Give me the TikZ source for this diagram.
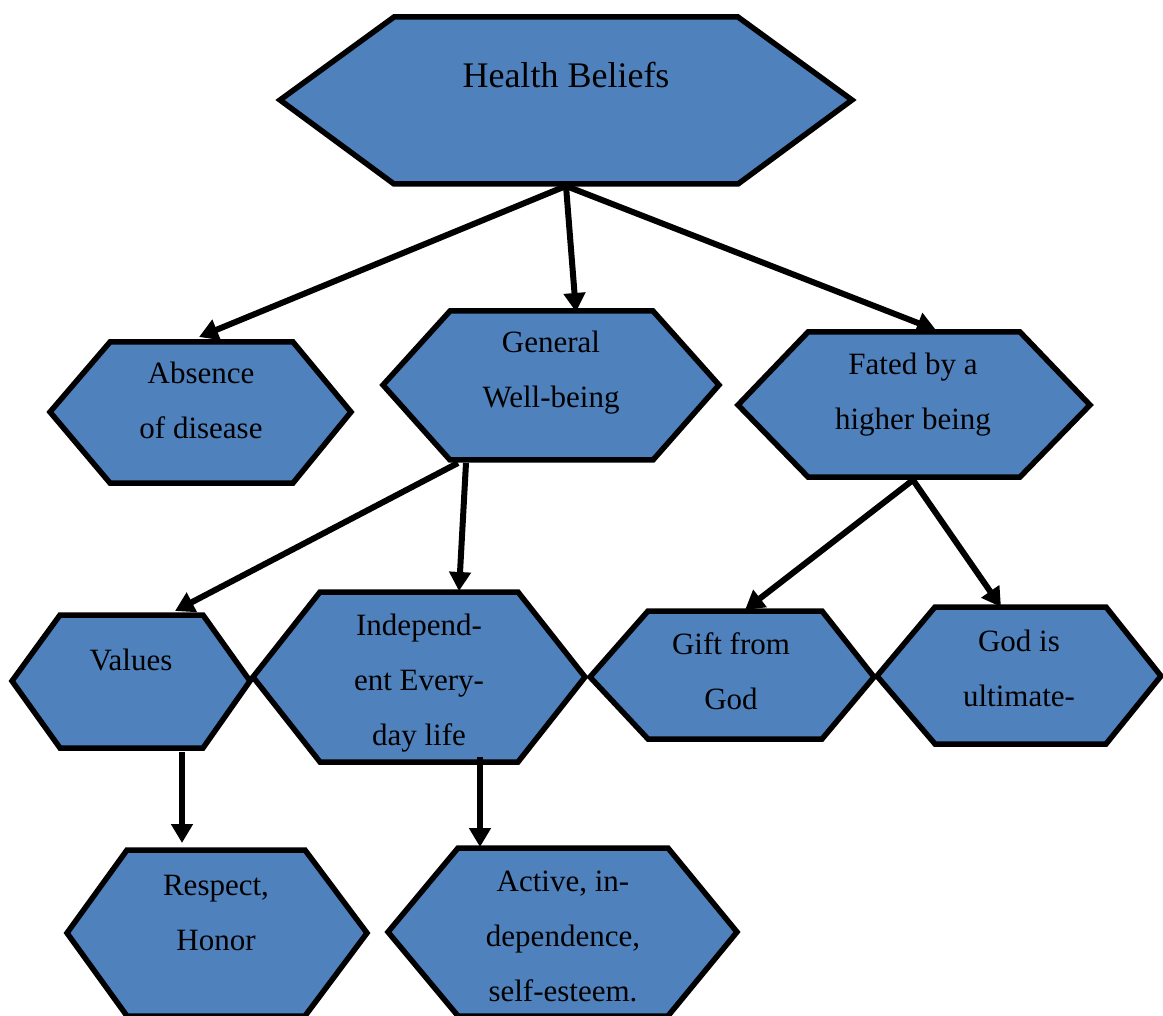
\documentclass[tikz,border=0pt]{standalone}
\usepackage{fontspec}
\setmainfont{Liberation Serif}
\usetikzlibrary{arrows.meta}

\definecolor{hexblue}{HTML}{4F81BD}

% hexagon outline: #1 left x, #2 inner left x, #3 inner right x, #4 right x,
% #5 top y, #6 middle y, #7 bottom y
\newcommand\hexfield[7]{%
  \draw[hexline] (#1,#6) -- (#2,#5) -- (#3,#5) -- (#4,#6) -- (#3,#7) -- (#2,#7) -- cycle;}

\begin{document}
\begin{tikzpicture}[x=1pt,y=-1pt,
    hexline/.style={fill=hexblue, draw=black, line width=5.5pt, line join=miter},
    caption/.style={font=\fontsize{31}{55}\selectfont, align=center, inner sep=0pt, anchor=north},
    title/.style={font=\fontsize{36}{44}\selectfont, inner sep=0pt, anchor=base},
    link/.style={draw=black, line width=6pt, -{Triangle[length=19pt,width=21pt]}}]
  \useasboundingbox (0,0) rectangle (1163,1016);

  % ---- hexagons ----
  \hexfield{280}{394}{738}{852}{17}{100}{184}
  \hexfield{50}{110}{293}{351}{342}{412}{483}
  \hexfield{383}{450}{653}{719}{311}{385}{460}
  \hexfield{738}{808}{1020}{1090}{332}{405}{477}
  \hexfield{12}{60}{203}{250}{615}{681}{748}
  \hexfield{253}{320}{518}{585}{592}{677}{762}
  \hexfield{590}{648}{822}{874}{611}{677}{739}
  \hexfield{877}{935}{1106}{1161}{607}{676}{744}
  \hexfield{67}{127}{305}{367}{850}{933}{1016}
  \hexfield{388}{458}{668}{737}{848}{932}{1016}

  % ---- labels (first baseline minus strut height) ----
  \node[title] (hb) at (566,88) {Health Beliefs};
  \node[caption] (absence) at (201,344.5) {Absence\strut\\of disease\strut};
  \node[caption] (wellbeing) at (551,313.5) {General\strut\\Well-being\strut};
  \node[caption] (fated) at (913,335.5) {Fated by a\strut\\higher being\strut};
  \node[caption] (values) at (131,631.5) {Values\strut};
  \node[caption] (everyday) at (419,596.5) {Independ-\strut\\ent Every-\strut\\day life\strut};
  \node[caption] (gift) at (731,615.5) {Gift from\strut\\God\strut};
  \node[caption] (ultimate) at (1019,612.5) {God is\strut\\ultimate-\strut};
  \node[caption] (respect) at (216,856.5) {Respect,\strut\\Honor\strut};
  \node[caption] (active) at (563,852.5) {Active, in-\strut\\dependence,\strut\\self-esteem.\strut};

  % ---- connector end points ----
  \coordinate (hb-out) at (566,186);
  \coordinate (absence-in) at (199,337);
  \coordinate (wellbeing-in) at (576,312);
  \coordinate (fated-in) at (936,330);
  \coordinate (wellbeing-outa) at (458,463);
  \coordinate (wellbeing-outb) at (466,463);
  \coordinate (values-in) at (175,611);
  \coordinate (everyday-in) at (459,591);
  \coordinate (fated-out) at (913,480);
  \coordinate (gift-in) at (745,610);
  \coordinate (ultimate-in) at (1001,607);
  \coordinate (values-out) at (182,752);
  \coordinate (respect-in) at (182,843);
  \coordinate (everyday-out) at (480,757);
  \coordinate (active-in) at (480,847);

  % ---- connectors ----
  \draw[link] (hb-out) -- (absence-in);
  \draw[link] (hb-out) -- (wellbeing-in);
  \draw[link] (hb-out) -- (fated-in);
  \draw[link] (wellbeing-outa) -- (values-in);
  \draw[link] (wellbeing-outb) -- (everyday-in);
  \draw[link] (fated-out) -- (gift-in);
  \draw[link] (fated-out) -- (ultimate-in);
  \draw[link] (values-out) -- (respect-in);
  \draw[link] (everyday-out) -- (active-in);
\end{tikzpicture}
\end{document}
